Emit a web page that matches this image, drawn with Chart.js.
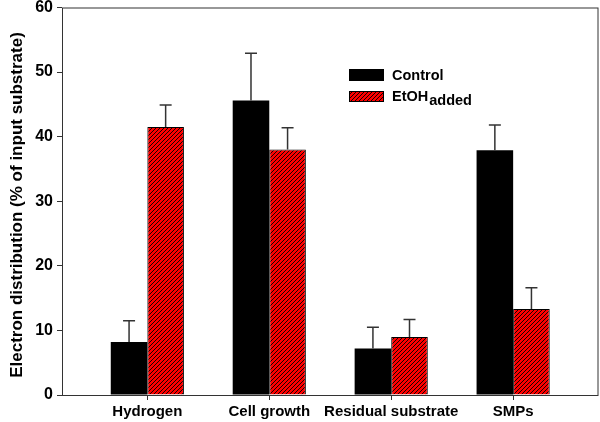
<!DOCTYPE html>
<html>
<head>
<meta charset="utf-8">
<script src="https://cdn.jsdelivr.net/npm/chart.js@4/dist/chart.umd.min.js"></script>
<style>
  html, body { margin: 0; padding: 0; background: #fff; }
  #wrap { width: 600px; height: 422px; }
</style>
</head>
<body>
<div id="wrap"><canvas id="canvas" width="600" height="422"></canvas></div>
<script>
const categories = ['Hydrogen', 'Cell growth', 'Residual substrate', 'SMPs'];
const controlValues = [8.2, 45.6, 7.2, 37.9];
const controlErrors = [3.3, 7.3, 3.3, 3.9];
const ethanolValues = [41.5, 38.0, 9.0, 13.3];
const ethanolErrors = [3.4, 3.4, 2.7, 3.3];
const yTicks = [0, 10, 20, 30, 40, 50, 60];

const FONT = '"Liberation Sans", Arial, sans-serif';
const AXIS = '#333';

// red fill with black "/" stripes
function makeHatch() {
    const c = document.createElement('canvas');
    c.width = 4; c.height = 4;
    const g = c.getContext('2d');
    g.fillStyle = '#ff0000';
    g.fillRect(0, 0, 4, 4);
    g.strokeStyle = '#000';
    g.lineWidth = 0.9;
    g.beginPath();
    g.moveTo(-1, 5); g.lineTo(5, -1);
    g.moveTo(-1, 1); g.lineTo(1, -1);
    g.moveTo(3, 5); g.lineTo(5, 3);
    g.stroke();
    return g.createPattern(c, 'repeat');
}
const hatch = makeHatch();

const errorBars = {
    id: 'errorBars',
    afterDatasetsDraw(chart) {
        const ctx = chart.ctx;
        const y = chart.scales.y;
        const errs = [controlErrors, ethanolErrors];
        ctx.save();
        ctx.strokeStyle = AXIS;
        ctx.lineWidth = 1.5;
        chart.data.datasets.forEach((ds, i) => {
            chart.getDatasetMeta(i).data.forEach((bar, j) => {
                const top = y.getPixelForValue(ds.data[j].y + errs[i][j]);
                ctx.beginPath();
                ctx.moveTo(bar.x, bar.y);
                ctx.lineTo(bar.x, top);
                ctx.moveTo(bar.x - 6, top);
                ctx.lineTo(bar.x + 6, top);
                ctx.stroke();
            });
        });
        ctx.restore();
    }
};

const frameAndLegend = {
    id: 'frameAndLegend',
    afterDraw(chart) {
        const ctx = chart.ctx;
        const a = chart.chartArea;
        ctx.save();
        ctx.strokeStyle = AXIS;
        ctx.lineWidth = 1;
        ctx.strokeRect(a.left + 0.5, a.top + 0.5, a.right - a.left - 1, a.bottom - a.top);

        // y axis title
        ctx.fillStyle = '#000';
        ctx.font = 'bold 17px ' + FONT;
        ctx.textAlign = 'center';
        ctx.textBaseline = 'middle';
        ctx.translate(17, 205);
        ctx.rotate(-Math.PI / 2);
        ctx.fillText('Electron distribution (% of input substrate)', 0, 0);
        ctx.setTransform(1, 0, 0, 1, 0, 0);

        // legend
        ctx.fillStyle = '#000';
        ctx.fillRect(349, 69, 35, 12);
        ctx.fillStyle = hatch;
        ctx.fillRect(349, 91, 35, 11);
        ctx.strokeStyle = '#000';
        ctx.strokeRect(349.5, 91.5, 34, 10);

        ctx.fillStyle = '#000';
        ctx.textAlign = 'left';
        ctx.textBaseline = 'alphabetic';
        ctx.font = 'bold 14.5px ' + FONT;
        ctx.fillText('Control', 392, 80);
        ctx.fillText('EtOH', 392, 101);
        const w = ctx.measureText('EtOH').width;
        ctx.fillText('added', 392 + w + 1, 105);
        ctx.restore();
    }
};

new Chart(document.getElementById('canvas').getContext('2d'), {
    type: 'bar',
    data: {
        datasets: [{
            label: 'Control',
            data: categories.map((c, i) => ({x: i, y: controlValues[i]})),
            backgroundColor: '#000',
            borderColor: '#000',
            borderWidth: 0,
            categoryPercentage: 0.6,
            barPercentage: 1.0
        }, {
            label: 'EtOH added',
            data: categories.map((c, i) => ({x: i, y: ethanolValues[i]})),
            backgroundColor: hatch,
            borderColor: '#000',
            borderWidth: 1,
            categoryPercentage: 0.6,
            barPercentage: 1.0
        }]
    },
    options: {
        responsive: false,
        animation: false,
        layout: {padding: {top: 7.5, right: 1.5, left: 0, bottom: 0}},
        plugins: {
            legend: {display: false},
            tooltip: {enabled: false}
        },
        scales: {
            x: {
                type: 'linear',
                min: -0.7,
                max: 3.7,
                offset: false,
                afterBuildTicks: (s) => { s.ticks = categories.map((c, i) => ({value: i})); },
                afterFit: (s) => { s.height = 27; s.paddingLeft = 0; s.paddingRight = 0; },
                grid: {display: true, drawOnChartArea: false, drawTicks: true, tickLength: 5, color: AXIS, offset: false},
                border: {display: false},
                ticks: {
                    autoSkip: false,
                    maxRotation: 0,
                    padding: 3,
                    color: '#000',
                    font: {family: FONT, size: 15, weight: 'bold'},
                    callback: (v) => categories[v]
                }
            },
            y: {
                min: 0,
                max: 60,
                afterBuildTicks: (s) => { s.ticks = yTicks.map(v => ({value: v})); },
                afterFit: (s) => { s.width = 62; s.paddingTop = 0; s.paddingBottom = 0; },
                grid: {display: true, drawOnChartArea: false, drawTicks: true, tickLength: 5, color: AXIS},
                border: {display: false},
                ticks: {
                    padding: 4,
                    color: '#000',
                    font: {family: FONT, size: 16, weight: 'bold'}
                }
            }
        }
    },
    plugins: [errorBars, frameAndLegend]
});
</script>
</body>
</html>
